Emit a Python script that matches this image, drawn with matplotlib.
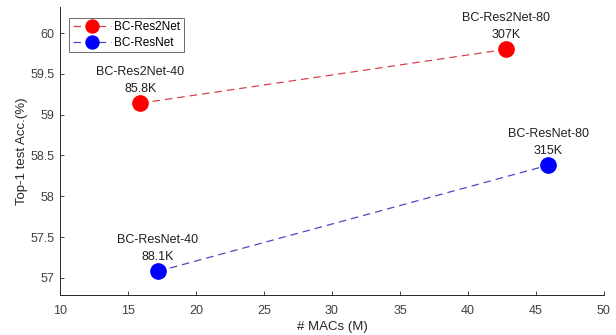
import matplotlib.pyplot as plt

plt.rcParams['font.family'] = ['Liberation Sans', 'DejaVu Sans']

res2_macs = [15.9, 42.8]
res2_acc = [59.14, 59.80]
res2_names = ['BC-Res2Net-40', 'BC-Res2Net-80']
res2_params = ['85.8K', '307K']

res_macs = [17.2, 45.9]
res_acc = [57.08, 58.38]
res_names = ['BC-ResNet-40', 'BC-ResNet-80']
res_params = ['88.1K', '315K']

xticks = [10, 15, 20, 25, 30, 35, 40, 45, 50]
yticks = [57, 57.5, 58, 58.5, 59, 59.5, 60]

fig = plt.figure(figsize=(6.16, 3.35), dpi=100)
ax = fig.add_axes([0.0974, 0.1194, 0.883, 0.86])

ax.plot(res2_macs, res2_acc, '--', color='#d9404f', lw=0.9, dashes=(6, 4),
        marker='o', markersize=11, markerfacecolor='#ff0000',
        markeredgecolor='#ff0000', label='BC-Res2Net')
ax.plot(res_macs, res_acc, '--', color='#4a4ac0', lw=0.9, dashes=(6, 4),
        marker='o', markersize=11, markerfacecolor='#0000ff',
        markeredgecolor='#0000ff', label='BC-ResNet')

for xs, ys, names, params in [(res2_macs, res2_acc, res2_names, res2_params),
                              (res_macs, res_acc, res_names, res_params)]:
    for x, y, n, p in zip(xs, ys, names, params):
        ax.annotate(p, (x, y), xytext=(0, 6), textcoords='offset points',
                    ha='center', va='bottom', fontsize=9, color='#202020')
        ax.annotate(n, (x, y), xytext=(0, 18.5), textcoords='offset points',
                    ha='center', va='bottom', fontsize=9, color='#202020')

ax.set_xlim(10, 50)
ax.set_ylim(56.79, 60.32)
ax.set_xticks(xticks)
ax.set_xticklabels([str(t) for t in xticks])
ax.set_yticks(yticks)
ax.set_yticklabels(['57', '57.5', '58', '58.5', '59', '59.5', '60'])
ax.tick_params(direction='in', length=3, width=0.6, labelsize=9,
               labelcolor='#404040', color='#262626')
ax.tick_params(axis='y', pad=4)
ax.tick_params(axis='x', pad=7)
ax.spines['top'].set_visible(False)
ax.spines['right'].set_visible(False)
for s in ['left', 'bottom']:
    ax.spines[s].set_color('#262626')
    ax.spines[s].set_linewidth(0.7)

ax.set_xlabel('# MACs (M)', fontsize=9.5, color='#262626', labelpad=3)
ax.set_ylabel('Top-1 test Acc.(%)', fontsize=9.5, color='#262626', labelpad=2)

leg = ax.legend(loc='upper left', bbox_to_anchor=(0.017, 0.962), fontsize=8.5,
                frameon=True, fancybox=False, edgecolor='#262626',
                handlelength=3.2, handletextpad=0.3, borderpad=0.3,
                labelspacing=0.3, borderaxespad=0, markerscale=0.85)
leg.get_frame().set_linewidth(0.6)

fig.savefig('out.png', dpi=100)
